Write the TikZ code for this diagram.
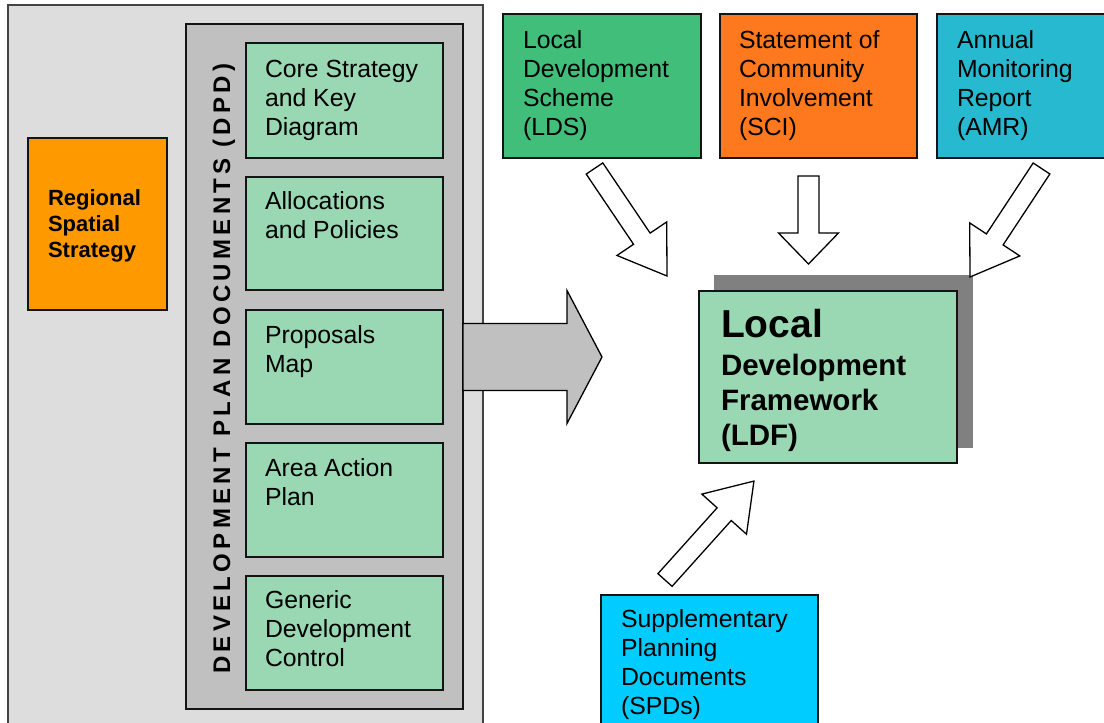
\documentclass[tikz,border=0pt]{standalone}
\usepackage{fontspec}
\setmainfont{Liberation Sans}
\newfontfamily\spacedfont[LetterSpace=18]{Liberation Sans}
\usetikzlibrary{calc}

\definecolor{panelgrey}{RGB}{221,221,221}
\definecolor{dpdgrey}{RGB}{192,192,192}
\definecolor{paleg}{RGB}{153,216,178}
\definecolor{rssorange}{RGB}{255,153,0}
\definecolor{ldsgreen}{RGB}{64,190,122}
\definecolor{sciorange}{RGB}{254,121,30}
\definecolor{amrblue}{RGB}{38,185,208}
\definecolor{spdblue}{RGB}{0,204,255}
\definecolor{shadowgrey}{RGB}{128,128,128}
\definecolor{edge}{RGB}{20,20,20}

\tikzset{
  box/.style={draw=edge, line width=1.5pt, inner sep=0pt, outer sep=0pt, anchor=north west},
  txt/.style={inner sep=0pt, outer sep=0pt, anchor=north west, align=left,
              font=\fontsize{24.8}{29}\selectfont},
  barrow/.style={draw=black, line width=1.3pt, line join=miter, fill=white},
}
% strut fixing the height of the first text line
\newcommand\topstrut{\rule{0pt}{20pt}}

% block arrow: #2 tail, #3 tip, #4 shaft half width, #5 head half width, #6 head length
\newcommand\blockarrow[6][]{%
  \draw[barrow,#1] let \p1=(#2), \p2=(#3),
      \n1={atan2(\y2-\y1,\x2-\x1)}, \n2={veclen(\x2-\x1,\y2-\y1)} in
    [shift={(\p1)}, rotate=\n1]
    (0,#4) -- ({\n2-#6},#4) -- ({\n2-#6},#5) -- (\n2,0)
    -- ({\n2-#6},-#5) -- ({\n2-#6},-#4) -- (0,-#4) -- cycle;}

\begin{document}
\begin{tikzpicture}[x=1pt,y=-1pt]
\useasboundingbox (0,0) rectangle (1104,723);
\clip (0,0) rectangle (1104,723);

% left panel holding the development plan documents
\node[box, draw=edge!80, fill=panelgrey, minimum width=475pt, minimum height=740pt] (panel) at (8,5) {};

\node[box, fill=rssorange, minimum width=139pt, minimum height=172pt] (rss) at (28,138) {};
\node[txt, font=\fontsize{22}{26}\selectfont\bfseries] (rss-t) at (48,185)
  {\rule{0pt}{20pt}Regional\\Spatial\\Strategy};

\node[box, fill=dpdgrey, minimum width=277pt, minimum height=685pt] (dpd) at (186,24) {};
\node[rotate=90, anchor=base, inner sep=0pt, font=\spacedfont\fontsize{24}{24}\selectfont\bfseries]
  (dpd-t) at (230,368.5) {DEVELOPMENT PLAN DOCUMENTS (DPD)};

\node[box, fill=paleg, minimum width=197pt, minimum height=115pt] (core)  at (246,43) {};
\node[box, fill=paleg, minimum width=197pt, minimum height=113pt] (alloc) at (246,177) {};
\node[box, fill=paleg, minimum width=197pt, minimum height=114pt] (prop)  at (246,310) {};
\node[box, fill=paleg, minimum width=197pt, minimum height=114pt] (aap)   at (246,443) {};
\node[box, fill=paleg, minimum width=197pt, minimum height=114pt] (gdc)   at (246,576) {};

\node[txt] (core-t)  at (265,57)  {\topstrut Core Strategy\\and Key\\Diagram};
\node[txt] (alloc-t) at (265,189) {\topstrut Allocations\\and Policies};
\node[txt] (prop-t)  at (265,323) {\topstrut Proposals\\Map};
\node[txt] (aap-t)   at (265,456) {\topstrut Area Action\\Plan};
\node[txt] (gdc-t)   at (265,588) {\topstrut Generic\\Development\\Control};

% documents feeding the framework
\node[box, fill=ldsgreen,  minimum width=198pt, minimum height=144pt] (lds) at (503,14) {};
\node[box, fill=sciorange, minimum width=197pt, minimum height=144pt] (sci) at (720,14) {};
\node[box, fill=amrblue,   minimum width=190pt, minimum height=144pt] (amr) at (937,14) {};
\node[txt] (lds-t) at (523,28) {\topstrut Local\\Development\\Scheme\\(LDS)};
\node[txt] (sci-t) at (739,28) {\topstrut Statement of\\Community\\Involvement\\(SCI)};
\node[txt] (amr-t) at (957,28) {\topstrut Annual\\Monitoring\\Report\\(AMR)};

% the framework with its drop shadow
\node[inner sep=0pt, outer sep=0pt, anchor=north west, fill=shadowgrey,
      minimum width=259pt, minimum height=173pt] (ldf-shadow) at (714,275) {};
\node[box, fill=paleg, minimum width=258pt, minimum height=172pt] (ldf) at (699,291) {};
\node[txt, font=\fontsize{29.5}{35}\selectfont\bfseries] (ldf-t) at (721,307)
  {{\fontsize{39}{39}\selectfont\rule{0pt}{30pt}Local}\\[3pt]Development\\Framework\\(LDF)};

\node[box, fill=spdblue, minimum width=217pt, minimum height=145pt] (spd) at (601,595) {};
\node[txt] (spd-t) at (621,607) {\topstrut Supplementary\\Planning\\Documents\\(SPDs)};

% arrows into the framework
\coordinate (dpd-out) at (463,357);
\coordinate (ldf-in)  at (602,357);
\blockarrow[fill=dpdgrey]{dpd-out}{ldf-in}{33.5}{66.5}{35}

\coordinate (lds-out) at (594.5,168.5);
\coordinate (lds-in)  at (667,276);
\blockarrow{lds-out}{lds-in}{10}{30}{45}

\coordinate (sci-out) at (808.5,176);
\coordinate (sci-in)  at (808.5,264);
\blockarrow{sci-out}{sci-in}{10.5}{30}{31}

\coordinate (amr-out) at (1041.5,168.5);
\coordinate (amr-in)  at (970,277);
\blockarrow{amr-out}{amr-in}{10}{30}{45}

\coordinate (spd-out) at (665,580);
\coordinate (spd-in)  at (754,481);
\blockarrow{spd-out}{spd-in}{9.5}{30}{44.5}
\end{tikzpicture}
\end{document}
